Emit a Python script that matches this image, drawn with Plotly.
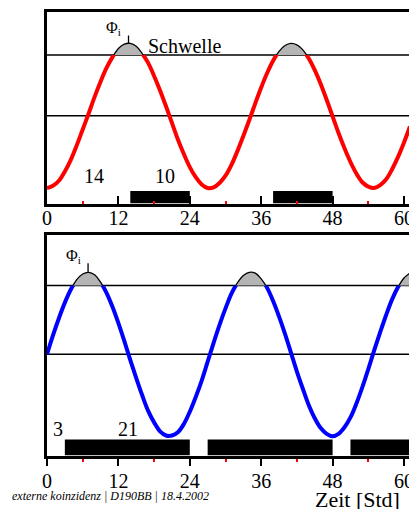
import plotly.graph_objects as go

# hourly readings of the two curves (0 = centre line, 1 = crest)
hours = list(range(62))
phi_top = [-1.00, -0.97, -0.90, -0.77, -0.61, -0.41, -0.19, 0.03, 0.26, 0.47,
           0.66, 0.81, 0.93, 0.99, 1.00, 0.96, 0.86, 0.73, 0.55, 0.35,
           0.13, -0.10, -0.33, -0.53, -0.71, -0.85, -0.95, -1.00, -0.99, -0.93,
           -0.83, -0.68, -0.49, -0.28, -0.06, 0.17, 0.39, 0.59, 0.76, 0.89,
           0.97, 1.00, 0.98, 0.91, 0.79, 0.63, 0.44, 0.22, -0.01, -0.24,
           -0.45, -0.64, -0.80, -0.92, -0.98, -1.00, -0.96, -0.88, -0.74, -0.57,
           -0.37, -0.15]
phi_bottom = [0.00, 0.23, 0.44, 0.63, 0.79, 0.91, 0.98, 1.00, 0.97, 0.88,
              0.75, 0.58, 0.38, 0.16, -0.07, -0.29, -0.50, -0.69, -0.83, -0.94,
              -0.99, -0.99, -0.95, -0.85, -0.70, -0.52, -0.32, -0.09, 0.14, 0.36,
              0.56, 0.74, 0.87, 0.96, 1.00, 0.99, 0.92, 0.81, 0.65, 0.46,
              0.25, 0.02, -0.21, -0.42, -0.62, -0.78, -0.90, -0.97, -1.00, -0.97,
              -0.89, -0.77, -0.60, -0.40, -0.18, 0.05, 0.27, 0.48, 0.67, 0.82,
              0.93, 0.99]
schwelle = 0.84

# dark phases (black bars)
bar_top_start = [14, 38, 62]
bar_top_end = [24, 48, 72]
bar_bottom_start = [3, 27, 51]
bar_bottom_end = [24, 48, 72]
bar_top_value = -1.04

W, H = 409, 509
LEFT = 47
PX_PER_H = 5.95
SERIF = "Liberation Serif"


def dom(top_px, bottom_px):
    return [1 - bottom_px / H, 1 - top_px / H]


def paper_x(px):
    return (px - LEFT) / (W - LEFT)


panels = [
    dict(xa="x", ya="y", lo="y3", hi="y4", top=11.5, bottom=203.5,
         yr=(-1.214, 1.441), data=phi_top, color="red",
         starts=bar_top_start, ends=bar_top_end, ticks="inside", ticklen=8,
         standoff=-6),
    dict(xa="x2", ya="y2", lo="y5", hi="y6", top=234.5, bottom=455.5,
         yr=(-1.234, 1.461), data=phi_bottom, color="blue",
         starts=bar_bottom_start, ends=bar_bottom_end, ticks="outside", ticklen=7,
         standoff=-2),
]

fig = go.Figure()
layout = {}
shapes = []
x_max = (W - LEFT) / PX_PER_H

for p in panels:
    ymin, ymax = p["yr"]
    thr_px = p["top"] + (ymax - schwelle) / (ymax - ymin) * (p["bottom"] - p["top"])

    # dark-phase bars
    fig.add_trace(go.Bar(
        base=p["starts"], x=[e - s for s, e in zip(p["starts"], p["ends"])],
        y=[(bar_top_value + ymin) / 2] * len(p["starts"]),
        width=bar_top_value - ymin, orientation="h",
        marker=dict(color="black", line=dict(width=0)),
        xaxis=p["xa"], yaxis=p["ya"], showlegend=False, hoverinfo="skip",
    ))
    # coloured curve, clipped at the threshold
    fig.add_trace(go.Scatter(
        x=hours, y=p["data"], mode="lines",
        line=dict(color=p["color"], width=4, shape="spline"),
        xaxis=p["xa"], yaxis=p["lo"], showlegend=False,
    ))
    # part above the threshold: grey cap with thin outline
    fig.add_trace(go.Scatter(
        x=hours, y=p["data"], mode="lines", fill="tozeroy", fillcolor="#b4b4b4",
        line=dict(color="black", width=1.3, shape="spline"),
        xaxis=p["xa"], yaxis=p["hi"], showlegend=False,
    ))

    xkey = "xaxis" + p["xa"][1:]
    layout[xkey] = dict(
        domain=[0, 1], range=[0, x_max], anchor=p["ya"], automargin=False,
        showline=True, linewidth=3, linecolor="black", mirror=True,
        ticks=p["ticks"], ticklen=p["ticklen"], tickwidth=1.5, tickcolor="black",
        tick0=0, dtick=12, showgrid=False, zeroline=False,
        minor=dict(tick0=0, dtick=6, ticks=p["ticks"], ticklen=3,
                   tickwidth=1.5, tickcolor="red"),
        tickfont=dict(family=SERIF, size=20, color="black"),
        ticklabelstandoff=p["standoff"],
        ticklabeloverflow="allow", fixedrange=True,
    )
    layout["yaxis" + p["ya"][1:]] = dict(
        domain=dom(p["top"], p["bottom"]), range=[ymin, ymax], anchor=p["xa"],
        showline=True, linewidth=3, linecolor="black", ticks="", automargin=False,
        showticklabels=False, showgrid=False, zeroline=False, fixedrange=True,
    )
    layout["yaxis" + p["lo"][1:]] = dict(
        domain=dom(thr_px, p["bottom"]), range=[ymin, schwelle], anchor=p["xa"],
        visible=False, fixedrange=True, automargin=False,
    )
    layout["yaxis" + p["hi"][1:]] = dict(
        domain=dom(p["top"], thr_px), range=[schwelle, ymax], anchor=p["xa"],
        visible=False, fixedrange=True, automargin=False,
    )

    # threshold and centre line
    for yv in (schwelle, 0):
        shapes.append(dict(type="line", xref=p["xa"] + " domain", yref=p["ya"],
                           x0=0, x1=1, y0=yv, y1=yv, layer="below",
                           line=dict(color="black", width=1.5)))

    # marker line above the first crest (parabolic vertex of the samples)
    d = p["data"]
    first = max(range(30), key=lambda i: d[i])
    y0, y1, y2 = d[first - 1], d[first], d[first + 1]
    peak_t = hours[first] + (y0 - y2) / (2 * (y0 - 2 * y1 + y2))
    shapes.append(dict(type="line", xref=p["xa"], yref=p["ya"],
                       x0=peak_t, x1=peak_t, y0=y1, y1=y1 + 0.11,
                       line=dict(color="black", width=1.3)))

txt = dict(family=SERIF, size=20, color="black")
phi_font = dict(family=SERIF, size=16, color="black")
annotations = [
    dict(text="Schwelle", x=23.1, y=0.968, xref="x", yref="y", font=txt),
    dict(text="14", x=7.98, y=-0.834, xref="x", yref="y", font=txt),
    dict(text="10", x=19.9, y=-0.834, xref="x", yref="y", font=txt),
    dict(text="3", x=1.85, y=-0.905, xref="x2", yref="y2", font=txt),
    dict(text="21", x=13.56, y=-0.905, xref="x2", yref="y2", font=txt),
    dict(text="Φ<sub>i</sub>", x=9.6, y=1.2, xref="x", yref="y",
         xanchor="left", yanchor="middle", font=phi_font),
    dict(text="Φ<sub>i</sub>", x=2.9, y=1.19, xref="x2", yref="y2",
         xanchor="left", yanchor="middle", font=phi_font),
    dict(text="<i>externe koinzidenz | D190BB | 18.4.2002</i>",
         x=paper_x(10), y=1 - 496 / H, xref="paper", yref="paper",
         xanchor="left", yanchor="middle",
         font=dict(family=SERIF, size=12, color="black")),
    dict(text="Zeit [Std]", x=paper_x(313), y=1 - 499 / H, xref="paper", yref="paper",
         xanchor="left", yanchor="middle", font=dict(family=SERIF, size=22, color="black")),
]
for a in annotations:
    a.setdefault("showarrow", False)

fig.update_layout(
    width=W, height=H,
    margin=dict(l=LEFT, r=0, t=0, b=0, autoexpand=False),
    paper_bgcolor="white", plot_bgcolor="rgba(0,0,0,0)",
    showlegend=False, barmode="overlay",
    shapes=shapes, annotations=annotations,
    **layout,
)

fig.write_html("out.html", config=dict(displayModeBar=False),
               post_script="document.body.style.margin='0';")
